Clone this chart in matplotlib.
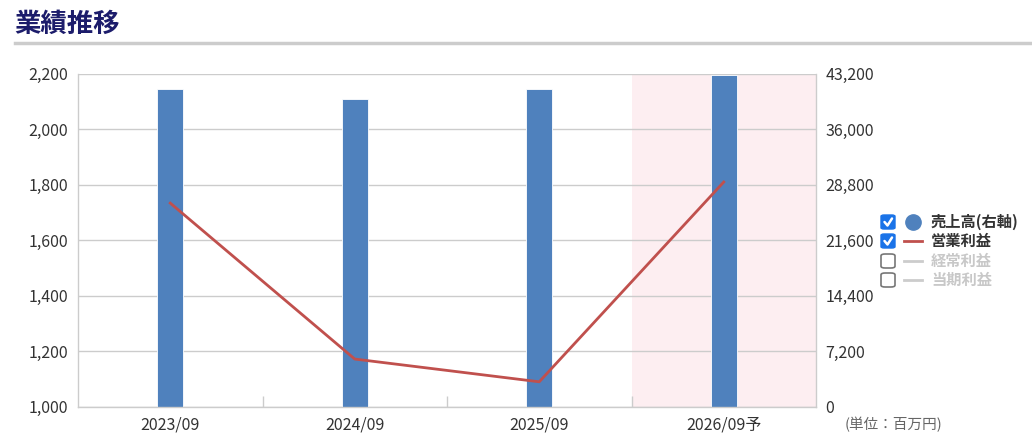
import matplotlib
matplotlib.use("Agg")
import matplotlib.pyplot as plt
from matplotlib.patches import FancyBboxPatch
from matplotlib.lines import Line2D

plt.rcParams['font.family'] = ['Noto Sans CJK JP', 'DejaVu Sans']

categories = ["2023/09", "2024/09", "2025/09", "2026/09予"]
sales = [41200, 39900, 41200, 43000]          # 売上高 (right axis)
op_profit = [1733, 1171, 1089, 1809]           # 営業利益 (left axis)
left_ticks = [1000, 1200, 1400, 1600, 1800, 2000, 2200]
right_ticks = [0, 7200, 14400, 21600, 28800, 36000, 43200]
legend_labels = ["売上高(右軸)", "営業利益", "経常利益", "当期利益"]
title = "業績推移"
unit = "(単位：百万円)"

W, H = 1032, 445
fig = plt.figure(figsize=(W / 100, H / 100), dpi=100)

def fx(px):
    return px / W

def fy(py):
    return 1 - py / H

L, R, T, B = 78, 816, 73.5, 406.5
ax = fig.add_axes([fx(L), fy(B), fx(R - L), (B - T) / H])
x = list(range(len(categories)))

BAR = "#4f81bd"
LINE = "#c0504d"
GRID = "#cccccc"
TXT = "#333333"
TS = 11.5

ax.axvspan(2.5, 3.5, color="#fdeef1", zorder=0, lw=0)
ax.bar(x, sales, width=0.14, color=BAR, zorder=2, edgecolor="white", linewidth=0.6)
ax.set_xlim(-0.5, 3.5)
ax.set_ylim(0, 43200)
ax.grid(axis="y", color=GRID, lw=1)
ax.set_axisbelow(True)
ax.set_xticks(x)
ax.set_xticklabels(categories)
ax.set_xticks([0.5, 1.5, 2.5], minor=True)
ax.tick_params(axis="x", which="major", length=0, pad=7, labelsize=TS, labelcolor=TXT)
ax.tick_params(axis="x", which="minor", length=8, direction="in", color=GRID, width=1)
ax.spines["top"].set_visible(False)
for s in ["left", "right", "bottom"]:
    ax.spines[s].set_color(GRID)
    ax.spines[s].set_linewidth(1)

ax2 = ax.twinx()
ax2.plot(x, op_profit, color=LINE, lw=2, zorder=3)
ax2.set_ylim(1000, 2200)
for s in ax2.spines.values():
    s.set_visible(False)

# right axis: sales
ax.yaxis.tick_right()
ax.set_yticks(right_ticks)
ax.set_yticklabels([f"{v:,}" for v in right_ticks])
ax.tick_params(axis="y", length=0, pad=7, labelsize=TS, labelcolor=TXT)
# left axis: operating profit
ax2.yaxis.tick_left()
ax2.set_yticks(left_ticks)
ax2.set_yticklabels([f"{v:,}" for v in left_ticks])
ax2.tick_params(axis="y", length=0, pad=7, labelsize=TS, labelcolor=TXT)

# Title
fig.text(fx(14), fy(24), title, fontsize=19, fontweight="bold", color="#1c1c6b",
         va="center", ha="left")
fig.add_artist(Line2D([fx(15), fx(1032)], [fy(43), fy(43)], color="#cccccc", lw=2.5))

# Legend
rows = [222, 241, 261, 280]
for i, (lab, yy) in enumerate(zip(legend_labels, rows)):
    active = i < 2
    bx, bs = 881, 14
    if active:
        fig.add_artist(FancyBboxPatch((fx(bx), fy(yy + bs / 2)), fx(bs), bs / H,
                                      boxstyle="round,pad=0,rounding_size=0.003",
                                      fc="#1a73e8", ec="#1a73e8", lw=1,
                                      transform=fig.transFigure))
        fig.add_artist(Line2D([fx(bx + 3.5), fx(bx + 6.5), fx(bx + 11)],
                              [fy(yy), fy(yy + 3.5), fy(yy - 3.5)],
                              color="white", lw=1.8, solid_capstyle="round",
                              solid_joinstyle="round"))
    else:
        fig.add_artist(FancyBboxPatch((fx(bx), fy(yy + bs / 2)), fx(bs), bs / H,
                                      boxstyle="round,pad=0,rounding_size=0.004",
                                      fc="white", ec="#777777", lw=1.2,
                                      transform=fig.transFigure))
    if i == 0:
        fig.add_artist(Line2D([fx(913)], [fy(yy)], marker="o", markersize=11,
                              color=BAR, lw=0))
    else:
        col = LINE if active else "#cccccc"
        fig.add_artist(Line2D([fx(904), fx(922)], [fy(yy), fy(yy)], color=col, lw=2))
    fig.text(fx(931), fy(yy), lab, fontsize=11, fontweight="bold",
             color="#333333" if active else "#c8c8c8", va="center", ha="left")

fig.text(fx(845), fy(425), unit, fontsize=10.5, color="#666666", va="center", ha="left")

fig.savefig("out.png", dpi=100)
